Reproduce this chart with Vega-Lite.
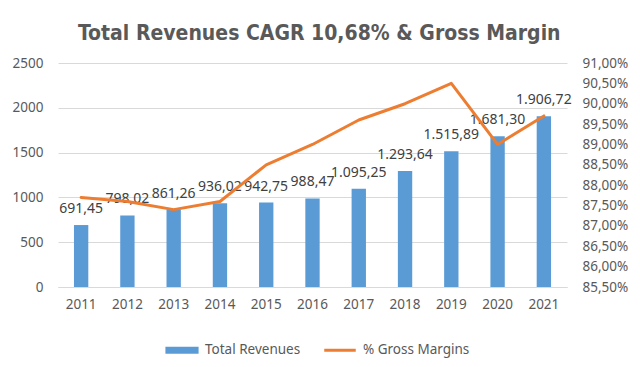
{
  "$schema": "https://vega.github.io/schema/vega-lite/v6.json",
  "width": 509,
  "height": 224,
  "autosize": {"type": "none"},
  "padding": {"left": 58, "top": 63, "right": 73, "bottom": 80},
  "background": "#ffffff",
  "config": {
    "locale": {"number": {"decimal": ",", "thousands": ".", "grouping": [3], "currency": ["", ""]}},
    "view": {"stroke": null},
    "font": "Noto Sans",
    "axis": {"labelColor": "#595959", "labelFont": "Noto Sans", "labelFontSize": 13.5, "ticks": false, "domain": false, "gridColor": "#D9D9D9", "title": null},
    "legend": {"labelColor": "#595959", "labelFont": "Noto Sans", "labelFontSize": 13.5}
  },
  "title": {
    "text": "Total Revenues CAGR 10,68% & Gross Margin",
    "font": "DejaVu Sans Condensed",
    "fontSize": 21,
    "fontWeight": "bold",
    "color": "#595959",
    "anchor": "start",
    "frame": "group",
    "dx": 20,
    "offset": 12
  },
  "data": {
    "values": [
      {"year": "2011", "revenue": 691.45, "margin": 0.877},
      {"year": "2012", "revenue": 798.02, "margin": 0.876},
      {"year": "2013", "revenue": 861.26, "margin": 0.874},
      {"year": "2014", "revenue": 936.02, "margin": 0.876},
      {"year": "2015", "revenue": 942.75, "margin": 0.885},
      {"year": "2016", "revenue": 988.47, "margin": 0.89},
      {"year": "2017", "revenue": 1095.25, "margin": 0.896},
      {"year": "2018", "revenue": 1293.64, "margin": 0.9},
      {"year": "2019", "revenue": 1515.89, "margin": 0.905},
      {"year": "2020", "revenue": 1681.3, "margin": 0.89},
      {"year": "2021", "revenue": 1906.72, "margin": 0.897}
    ]
  },
  "encoding": {
    "x": {
      "field": "year",
      "type": "nominal",
      "scale": {"paddingInner": 0.69, "paddingOuter": 0.345},
      "axis": {"labelAngle": 0, "domain": true, "domainColor": "#D9D9D9", "labelPadding": 10}
    }
  },
  "layer": [
    {
      "layer": [
        {
          "mark": {"type": "bar", "color": "#5B9BD5"},
          "encoding": {
            "y": {
              "field": "revenue",
              "type": "quantitative",
              "scale": {"domain": [0, 2500], "nice": false},
              "axis": {"values": [0, 500, 1000, 1500, 2000, 2500], "format": "d", "labelPadding": 15, "grid": true}
            },
            "color": {
              "datum": "Total Revenues",
              "type": "nominal",
              "scale": {"domain": ["Total Revenues", "% Gross Margins"], "range": ["#5B9BD5", "#ED7D31"]},
              "legend": {
                "title": null,
                "orient": "none",
                "legendX": 107,
                "legendY": 270,
                "direction": "horizontal",
                "symbolSize": 1100,
                "symbolStrokeWidth": 0,
                "columnPadding": 22,
                "labelOffset": 6,
                "encode": {
                  "symbols": {
                    "update": {
                      "shape": {"signal": "datum.value === 'Total Revenues' ? 'M-1,-0.21H1V0.21H-1Z' : 'M-0.95,-0.09H0.95V0.09H-0.95Z'"},
                      "fill": {"signal": "datum.value === 'Total Revenues' ? '#5B9BD5' : '#ED7D31'"},
                      "strokeWidth": {"value": 0},
                      "opacity": {"value": 1}
                    }
                  }
                }
              }
            }
          }
        },
        {
          "mark": {"type": "text", "baseline": "bottom", "dy": -9, "fontSize": 14, "color": "#404040", "font": "Noto Sans"},
          "encoding": {
            "y": {"field": "revenue", "type": "quantitative"},
            "text": {"field": "revenue", "type": "quantitative", "format": ",.2f"}
          }
        }
      ]
    },
    {
      "mark": {"type": "line", "color": "#ED7D31", "strokeWidth": 3, "strokeCap": "round", "strokeJoin": "round"},
      "encoding": {
        "y": {
          "field": "margin",
          "type": "quantitative",
          "scale": {"domain": [0.855, 0.91], "nice": false, "zero": false},
          "axis": {"orient": "right", "values": [0.855, 0.86, 0.865, 0.87, 0.875, 0.88, 0.885, 0.89, 0.895, 0.9, 0.905, 0.91], "format": ".2%", "labelPadding": 15, "grid": false}
        },
        "color": {"datum": "% Gross Margins", "type": "nominal"}
      }
    }
  ],
  "resolve": {"scale": {"y": "independent"}}
}
